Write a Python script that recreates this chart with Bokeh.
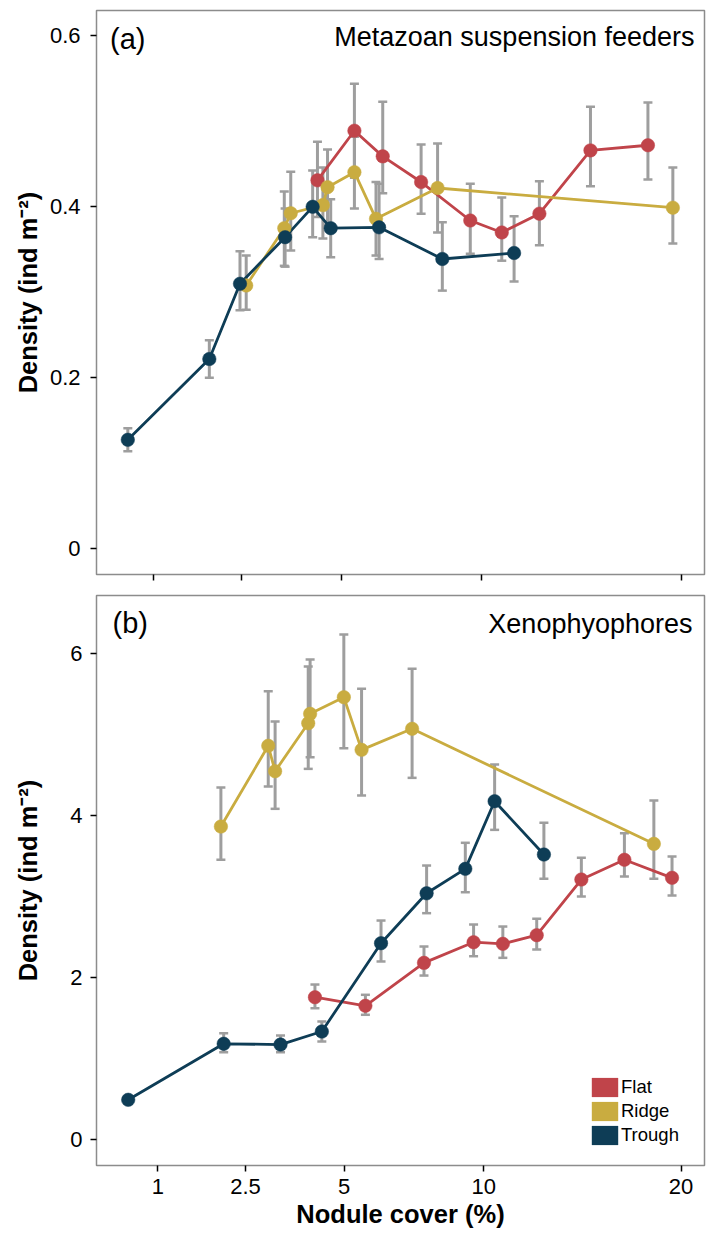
import numpy as np
from bokeh.plotting import figure
from bokeh.layouts import column
from bokeh.models import ColumnDataSource, FixedTicker, Label, Legend, LegendItem, Range1d
from bokeh.embed import file_html
from bokeh.resources import INLINE

# ---------------- data ----------------
groups = ["Flat", "Ridge", "Trough"]
x_tick_values = [1, 2.5, 5, 10, 20]
x_tick_labels = ["1", "2.5", "5", "10", "20"]
a_y_ticks = [0, 0.2, 0.4, 0.6]
a_y_tick_labels = ["0", "0.2", "0.4", "0.6"]
b_y_ticks = [0, 2, 4, 6]
b_y_tick_labels = ["0", "2", "4", "6"]

# Panel (a): Metazoan suspension feeders  (nodule cover %, density, lower, upper)
a_flat_cover = [4.33, 5.40, 6.30, 7.63, 9.52, 10.84, 12.53, 15.02, 18.09]
a_flat_dens = [0.431, 0.489, 0.459, 0.429, 0.384, 0.370, 0.392, 0.466, 0.472]
a_flat_lo = [0.388, 0.434, 0.416, 0.392, 0.345, 0.337, 0.355, 0.424, 0.432]
a_flat_hi = [0.476, 0.544, 0.523, 0.473, 0.427, 0.411, 0.430, 0.517, 0.522]

a_ridge_cover = [2.60, 3.47, 3.63, 4.48, 4.61, 5.40, 6.08, 8.24, 19.51]
a_ridge_dens = [0.308, 0.375, 0.3925, 0.402, 0.423, 0.4405, 0.386, 0.422, 0.399]
a_ridge_lo = [0.2795, 0.331, 0.349, 0.363, 0.379, 0.398, 0.343, 0.370, 0.357]
a_ridge_hi = [0.343, 0.418, 0.441, 0.446, 0.467, 0.482, 0.429, 0.474, 0.446]

a_trough_cover = [0.696, 1.877, 2.47, 3.49, 4.20, 4.70, 6.18, 8.42, 11.38]
a_trough_dens = [0.1275, 0.222, 0.310, 0.3645, 0.400, 0.375, 0.376, 0.339, 0.346]
a_trough_lo = [0.114, 0.200, 0.279, 0.330, 0.3645, 0.341, 0.339, 0.302, 0.3126]
a_trough_hi = [0.141, 0.244, 0.348, 0.398, 0.4425, 0.409, 0.427, 0.382, 0.389]

# Panel (b): Xenophyophores
b_flat_cover = [4.17, 5.65, 7.65, 9.58, 10.82, 12.35, 14.52, 16.78, 19.47]
b_flat_dens = [1.755, 1.649, 2.180, 2.435, 2.415, 2.522, 3.210, 3.454, 3.231]
b_flat_lo = [1.619, 1.538, 2.023, 2.262, 2.242, 2.345, 3.000, 3.247, 3.012]
b_flat_hi = [1.912, 1.785, 2.382, 2.654, 2.629, 2.724, 3.478, 3.783, 3.494]

b_ridge_cover = [2.01, 3.00, 3.16, 3.99, 4.04, 4.99, 5.53, 7.22, 18.42]
b_ridge_dens = [3.865, 4.863, 4.549, 5.142, 5.258, 5.464, 4.813, 5.073, 3.651]
b_ridge_lo = [3.454, 4.360, 4.084, 4.578, 4.720, 4.833, 4.249, 4.467, 3.219]
b_ridge_hi = [4.347, 5.538, 5.163, 5.843, 5.930, 6.239, 5.567, 5.815, 4.187]

b_trough_cover = [0.644, 2.063, 3.289, 4.359, 6.154, 7.747, 9.243, 10.464, 12.687]
b_trough_dens = [0.487, 1.179, 1.170, 1.331, 2.423, 3.040, 3.342, 4.178, 3.519]
b_trough_lo = [0.460, 1.075, 1.075, 1.208, 2.197, 2.794, 3.053, 3.824, 3.219]
b_trough_hi = [0.515, 1.310, 1.282, 1.455, 2.703, 3.383, 3.664, 4.632, 3.911]

# ---------------- style ----------------
FONT = "Liberation Sans"
COLORS = {"Flat": "#C0444A", "Ridge": "#C9AC40", "Trough": "#0E3D56"}
ERR = "#9E9E9E"
FRAME = "#8C8C8C"

panel_a = {
    "Flat": (a_flat_cover, a_flat_dens, a_flat_lo, a_flat_hi),
    "Ridge": (a_ridge_cover, a_ridge_dens, a_ridge_lo, a_ridge_hi),
    "Trough": (a_trough_cover, a_trough_dens, a_trough_lo, a_trough_hi),
}
panel_b = {
    "Flat": (b_flat_cover, b_flat_dens, b_flat_lo, b_flat_hi),
    "Ridge": (b_ridge_cover, b_ridge_dens, b_ridge_lo, b_ridge_hi),
    "Trough": (b_trough_cover, b_trough_dens, b_trough_lo, b_trough_hi),
}

sq_ticks = [float(np.sqrt(v)) for v in x_tick_values]


def make_panel(height, xr, yr, borders, data, yticks, ylabels, title, tag,
               tag_off, title_off, show_xlabels, ytick_standoff, ylab_standoff):
    p = figure(width=712, height=height,
               x_range=Range1d(*xr), y_range=Range1d(*yr),
               output_backend="svg", toolbar_location=None,
               min_border_left=borders[0], min_border_right=borders[1],
               min_border_top=borders[2], min_border_bottom=borders[3])
    p.xgrid.visible = False
    p.ygrid.visible = False
    p.outline_line_color = FRAME
    p.outline_line_width = 1.5
    p.background_fill_color = "white"
    p.border_fill_color = "white"

    for ax in (p.xaxis[0], p.yaxis[0]):
        ax.axis_line_color = None
        ax.major_tick_out = 6
        ax.major_tick_in = 0
        ax.major_tick_line_color = "black"
        ax.major_tick_line_width = 1.5
        ax.minor_tick_line_color = None
        ax.major_label_text_font = FONT
        ax.major_label_text_font_size = "22px"
        ax.major_label_text_color = "black"
        ax.axis_label_text_font = FONT
        ax.axis_label_text_font_style = "bold"
        ax.axis_label_text_font_size = "25.5px"
        ax.axis_label_text_color = "black"

    p.xaxis.ticker = FixedTicker(ticks=sq_ticks)
    p.xaxis.major_label_overrides = {t: lab for t, lab in zip(sq_ticks, x_tick_labels)}
    if show_xlabels:
        p.xaxis.major_label_standoff = 7
        p.xaxis.axis_label = "Nodule cover (%)"
        p.xaxis.axis_label_standoff = 3
    else:
        p.xaxis.major_label_text_font_size = "1px"
        p.xaxis.major_label_text_alpha = 0
        p.xaxis.major_label_standoff = 0

    p.yaxis.ticker = FixedTicker(ticks=yticks)
    p.yaxis.major_label_overrides = {t: lab for t, lab in zip(yticks, ylabels)}
    p.yaxis.major_label_standoff = ytick_standoff
    p.yaxis.axis_label = "Density (ind m\u207b\u00b2)"
    p.yaxis.axis_label_standoff = ylab_standoff

    srcs = {}
    for g in groups:
        cover, dens, lo, hi = data[g]
        srcs[g] = ColumnDataSource(dict(x=np.sqrt(cover), y=dens, lo=lo, hi=hi))

    for g in groups:
        s = srcs[g]
        p.segment(x0="x", y0="lo", x1="x", y1="hi", source=s, line_color=ERR, line_width=3)
        p.scatter(x="x", y="lo", marker="dash", size=9, line_color=ERR, line_width=2.5, source=s)
        p.scatter(x="x", y="hi", marker="dash", size=9, line_color=ERR, line_width=2.5, source=s)
    for g in groups:
        p.line(x="x", y="y", source=srcs[g], line_color=COLORS[g], line_width=2.8)
    for g in groups:
        p.scatter(x="x", y="y", source=srcs[g], size=13.5, fill_color=COLORS[g],
                  line_color=COLORS[g], line_width=0.5)

    p.add_layout(Label(x=xr[0], y=yr[1], x_offset=tag_off[0], y_offset=tag_off[1], text=tag,
                       text_font=FONT, text_font_size="29px", text_color="black",
                       text_baseline="alphabetic", text_align="left"))
    p.add_layout(Label(x=xr[1], y=yr[1], x_offset=title_off[0], y_offset=title_off[1], text=title,
                       text_font=FONT, text_font_size="27px", text_color="black",
                       text_baseline="alphabetic", text_align="right"))
    return p


p1 = make_panel(590, (0.6284, 4.6251), (-0.030, 0.6296), (96, 8, 10, 16), panel_a,
                a_y_ticks, a_y_tick_labels, "Metazoan suspension feeders", "(a)",
                (13.5, -28), (-10, -26.7), False, 10, 5)

p2 = make_panel(644, (0.592, 4.628), (-0.325, 6.721), (94, 5, 5, 69), panel_b,
                b_y_ticks, b_y_tick_labels, "Xenophyophores", "(b)",
                (16, -27), (-12, -28), True, 8, 25)

# legend in panel (b)
items = []
for g in groups:
    r = p2.quad(left=[np.nan], right=[np.nan], top=[np.nan], bottom=[np.nan],
                fill_color=COLORS[g], line_color=None)
    items.append(LegendItem(label=g, renderers=[r]))
legend = Legend(items=items, location=(492, 18), glyph_width=33, glyph_height=24,
                spacing=0, padding=0, margin=0, label_standoff=0,
                label_text_font=FONT, label_text_font_size="18.5px", label_text_color="black",
                border_line_color=None, background_fill_alpha=0)
p2.add_layout(legend, "center")

layout = column(p1, p2, spacing=0)
open("out.html", "w").write(file_html(layout, INLINE))
